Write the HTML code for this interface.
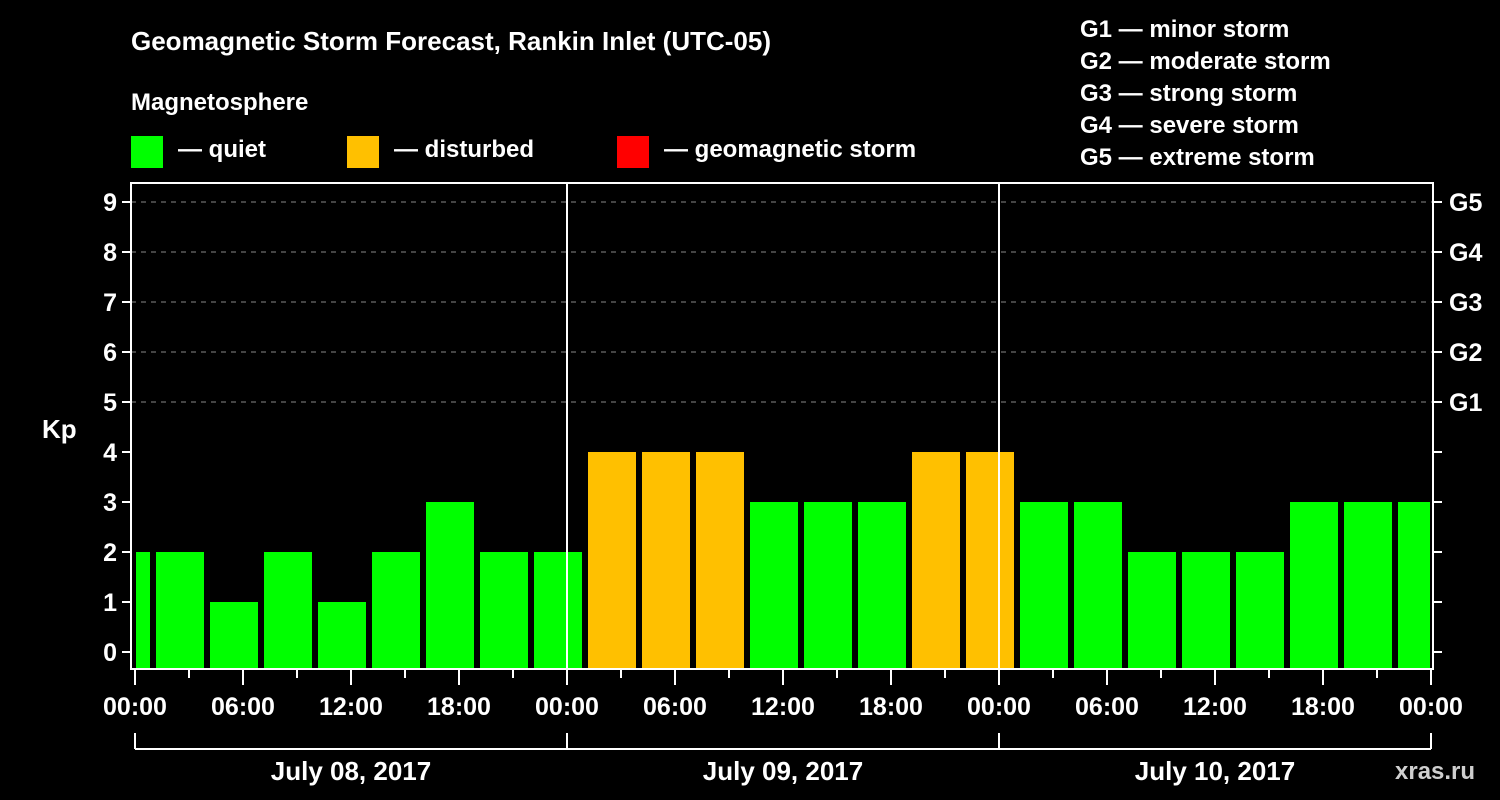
<!DOCTYPE html>
<html><head><meta charset="utf-8"><style>
html,body{margin:0;padding:0;background:#000;width:1500px;height:800px;overflow:hidden}
svg text{font-family:"Liberation Sans",Arial,sans-serif;font-weight:bold;fill:#fff}
</style></head><body>
<svg id="chart" width="1500" height="800" xmlns="http://www.w3.org/2000/svg">
<rect width="1500" height="800" fill="#000"/>
<text x="131" y="50" font-size="26">Geomagnetic Storm Forecast, Rankin Inlet (UTC-05)</text>
<text x="131" y="110" font-size="24">Magnetosphere</text>
<g><rect x="131" y="136" width="32" height="32" fill="#00ff00"/><text x="178" y="157" font-size="24">— quiet</text></g>
<g><rect x="347" y="136" width="32" height="32" fill="#ffc000"/><text x="394" y="157" font-size="24">— disturbed</text></g>
<g><rect x="617" y="136" width="32" height="32" fill="#ff0000"/><text x="664" y="157" font-size="24">— geomagnetic storm</text></g>
<g font-size="24">
<text x="1080" y="37">G1 — minor storm</text>
<text x="1080" y="69">G2 — moderate storm</text>
<text x="1080" y="101">G3 — strong storm</text>
<text x="1080" y="133">G4 — severe storm</text>
<text x="1080" y="165">G5 — extreme storm</text>
</g>
<text x="42" y="438" font-size="26">Kp</text>
<text x="1395" y="779" font-size="24" fill="#ccc" style="fill:#cfcfcf">xras.ru</text>
<g id="grid"></g><g id="bars"></g><g id="axes"></g>
</svg>
<script>
const startHours=[-2,1,4,7,10,13,16,19,22,25,28,31,34,37,40,43,46,49,52,55,58,61,64,67,70];
const kpValues=[2,2,1,2,1,2,3,2,2,4,4,4,3,3,3,4,4,3,3,2,2,2,3,3,3];
const yTicks=[0,1,2,3,4,5,6,7,8,9];
const gLabels=["G1","G2","G3","G4","G5"];
const hourLabels=["00:00","06:00","12:00","18:00"];
const dayLabels=["July 08, 2017","July 09, 2017","July 10, 2017"];
const NS="http://www.w3.org/2000/svg";
const X0=135,PXH=18,L=131,R=1433,T=183,B=669;
function x(h){return X0+h*PXH;}
function y(v){return 652-v*50;}
function mk(tag,attrs,parent,txt){const e=document.createElementNS(NS,tag);for(const k in attrs)e.setAttribute(k,attrs[k]);if(txt!==undefined)e.textContent=txt;document.getElementById(parent).appendChild(e);return e;}
for(let v=5;v<=9;v++){
 const g=mk('line',{x1:L,x2:R,y1:y(v),y2:y(v),stroke:'#888','stroke-width':1,'stroke-dasharray':'5,5'},'grid');
 
 
}
startHours.forEach((s,i)=>{
 let x1=Math.max(x(s)+3,L+5),x2=Math.min(x(s+3)-3,R-3);
 const v=kpValues[i];
 const c=v>=5?'#ff0000':(v>=4?'#ffc000':'#00ff00');
 const b=mk('rect',{x:x1,y:y(v),width:x2-x1,height:B-1-y(v),fill:c},'bars');
 
 
});
mk('rect',{x:L,y:T,width:R-L,height:B-T,fill:'none',stroke:'#fff','stroke-width':2},'axes');
for(let d=1;d<=2;d++)mk('line',{x1:x(24*d),x2:x(24*d),y1:T,y2:B,stroke:'#fff','stroke-width':2},'axes');
yTicks.forEach(v=>{
 mk('line',{x1:L-9,x2:L,y1:y(v),y2:y(v),stroke:'#fff','stroke-width':2},'axes');
 mk('line',{x1:R,x2:R+9,y1:y(v),y2:y(v),stroke:'#fff','stroke-width':2},'axes');
 const t=mk('text',{x:117,y:y(v)+9,'font-size':25,'text-anchor':'end'},'axes',String(v));
 
 
});
gLabels.forEach((g,i)=>{
 const t=mk('text',{x:1449,y:y(5+i)+9,'font-size':25},'axes',g);
 
 
});
for(let h=0;h<=72;h+=3){
 const major=h%6===0;
 mk('line',{x1:x(h),x2:x(h),y1:B,y2:major?B+16:B+9,stroke:'#fff','stroke-width':2},'axes');
 if(major){
  const lbl=h%24===0?"00:00":hourLabels[(h%24)/6];
  const t=mk('text',{x:x(h),y:B+46,'font-size':25,'text-anchor':'middle'},'axes',lbl);
  
  
 }
}
mk('line',{x1:x(0),x2:x(72),y1:749,y2:749,stroke:'#fff','stroke-width':2},'axes');
for(let d=0;d<=3;d++)mk('line',{x1:x(24*d),x2:x(24*d),y1:733,y2:749,stroke:'#fff','stroke-width':2},'axes');
dayLabels.forEach((dl,i)=>{
 const t=mk('text',{x:x(24*i+12),y:780,'font-size':26,'text-anchor':'middle'},'axes',dl);
 
 
});
</script>
</body></html>
